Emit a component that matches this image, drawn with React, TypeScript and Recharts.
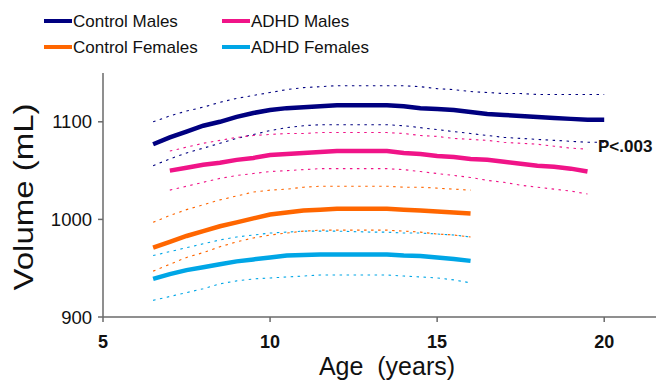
import { LineChart, Line, XAxis, YAxis } from "recharts";

const FONT = '"Liberation Sans", Arial, sans-serif';

// age in years, 0.5 step
const AGES = [6.5, 7, 7.5, 8, 8.5, 9, 9.5, 10, 10.5, 11, 11.5, 12, 12.5, 13, 13.5, 14, 14.5, 15, 15.5, 16, 16.5, 17, 17.5, 18, 18.5, 19, 19.5, 20];

const CONTROL_MALES = [1077, 1084, 1090, 1096, 1100, 1105, 1109, 1112, 1114, 1115, 1116, 1117, 1117, 1117, 1117, 1116, 1114, 1113, 1112, 1110, 1108, 1107, 1106, 1105, 1104, 1103, 1102, 1102];
const CONTROL_MALES_HI = [1100, 1106, 1111, 1115, 1120, 1124, 1127, 1130, 1133, 1135, 1136, 1137, 1137, 1137, 1137, 1137, 1136, 1134, 1133, 1131, 1130, 1129, 1129, 1128, 1128, 1128, 1128, 1128];
const CONTROL_MALES_LO = [1055, 1062, 1068, 1073, 1078, 1083, 1087, 1091, 1094, 1096, 1097, 1097, 1097, 1097, 1097, 1096, 1094, 1092, 1090, 1088, 1086, 1084, 1083, 1082, 1081, 1080, 1079, 1079];

const ADHD_MALES = [null, 1050, 1053, 1056, 1058, 1061, 1063, 1066, 1067, 1068, 1069, 1070, 1070, 1070, 1070, 1068, 1067, 1065, 1064, 1062, 1061, 1059, 1057, 1055, 1054, 1052, 1049, null];
const ADHD_MALES_HI = [null, 1070, 1074, 1078, 1081, 1084, 1086, 1087, 1088, 1088, 1089, 1089, 1089, 1089, 1089, 1088, 1086, 1085, 1083, 1082, 1081, 1079, 1078, 1077, 1075, 1073, 1072, null];
const ADHD_MALES_LO = [null, 1030, 1034, 1038, 1042, 1045, 1047, 1049, 1050, 1051, 1052, 1052, 1052, 1052, 1052, 1051, 1049, 1047, 1045, 1043, 1040, 1038, 1035, 1033, 1031, 1029, 1026, null];

const CONTROL_FEMALES = [971, 977, 983, 988, 993, 997, 1001, 1005, 1007, 1009, 1010, 1011, 1011, 1011, 1011, 1010, 1009, 1008, 1007, 1006];
const CONTROL_FEMALES_HI = [997, 1004, 1010, 1015, 1020, 1024, 1028, 1030, 1031, 1033, 1034, 1034, 1034, 1034, 1034, 1033, 1033, 1032, 1031, 1030];
const CONTROL_FEMALES_LO = [947, 954, 961, 966, 972, 977, 981, 984, 986, 988, 989, 989, 989, 989, 989, 988, 987, 985, 984, 982];

const ADHD_FEMALES = [939, 944, 948, 951, 954, 957, 959, 961, 963, 963.5, 964, 964, 964, 964, 964, 963, 962.5, 961, 959.5, 957.5];
const ADHD_FEMALES_HI = [963, 967, 971, 975, 979, 982, 984, 986, 987, 988, 988, 988, 987.5, 987, 987, 986, 986, 985, 984, 982];
const ADHD_FEMALES_LO = [917, 921, 925, 929, 934, 937, 939, 940, 941, 942, 943, 943, 943, 943, 943, 942, 941, 940, 938, 935];

const X_TICKS = [5, 10, 15, 20];
const Y_TICKS = [900, 1000, 1100];

const NAVY = "#000080";
const PINK = "#F01488";
const ORANGE = "#FF6600";
const CYAN = "#00A6E6";

const LEGEND = [
  { name: "Control Males", color: NAVY, x: 44, y: 21 },
  { name: "ADHD Males", color: PINK, x: 222, y: 21 },
  { name: "Control Females", color: ORANGE, x: 44, y: 47 },
  { name: "ADHD Females", color: CYAN, x: 222, y: 47 },
];

const rows = AGES.map((age, i) => ({
  age,
  cm: CONTROL_MALES[i], cmHi: CONTROL_MALES_HI[i], cmLo: CONTROL_MALES_LO[i],
  am: ADHD_MALES[i], amHi: ADHD_MALES_HI[i], amLo: ADHD_MALES_LO[i],
  cf: CONTROL_FEMALES[i], cfHi: CONTROL_FEMALES_HI[i], cfLo: CONTROL_FEMALES_LO[i],
  af: ADHD_FEMALES[i], afHi: ADHD_FEMALES_HI[i], afLo: ADHD_FEMALES_LO[i],
}));

const SERIES = [
  { key: "cm", color: NAVY },
  { key: "am", color: PINK },
  { key: "cf", color: ORANGE },
  { key: "af", color: CYAN },
];

export default function App() {
  return (
    <div style={{ position: "absolute", left: 0, top: 0, width: 657, height: 381, background: "#fff" }}>
      <LineChart
        width={657}
        height={381}
        data={rows}
        margin={{ top: 73, right: 1, left: 0, bottom: 0 }}
      >
        <XAxis
          dataKey="age"
          type="number"
          domain={[5, 21.55]}
          ticks={X_TICKS}
          height={64}
          tickSize={5}
          tickMargin={13}
          stroke="#6a6a6a"
          strokeWidth={1.5}
          tick={{ fontSize: 18, fontWeight: 700, fill: "#111", fontFamily: FONT }}
        />
        <YAxis
          type="number"
          domain={[900, 1150]}
          ticks={Y_TICKS}
          width={103}
          tickSize={5}
          tickMargin={6}
          stroke="#6a6a6a"
          strokeWidth={1.5}
          tick={{ fontSize: 18.5, fill: "#111", fontFamily: FONT }}
        />
        {SERIES.map(s => [
          <Line key={s.key + "Hi"} dataKey={s.key + "Hi"} stroke={s.color} strokeWidth={1.1}
            strokeDasharray="2.5 4.5" dot={false} activeDot={false} isAnimationActive={false} type="linear" />,
          <Line key={s.key + "Lo"} dataKey={s.key + "Lo"} stroke={s.color} strokeWidth={1.1}
            strokeDasharray="2.5 4.5" dot={false} activeDot={false} isAnimationActive={false} type="linear" />,
        ])}
        {SERIES.map(s => (
          <Line key={s.key} dataKey={s.key} stroke={s.color} strokeWidth={4.5}
            dot={false} activeDot={false} isAnimationActive={false} type="linear" />
        ))}
      </LineChart>
      <svg width={657} height={381} style={{ position: "absolute", left: 0, top: 0, pointerEvents: "none" }}>
        {LEGEND.map(l => (
          <g key={l.name}>
            <line x1={l.x} x2={l.x + 28} y1={l.y} y2={l.y} stroke={l.color} strokeWidth={4} />
            <text x={l.x + 29} y={l.y + 6} fontSize={17} fontFamily={FONT} fill="#111">{l.name}</text>
          </g>
        ))}
        <text x={598} y={152} fontSize={17} fontWeight={700} fontFamily={FONT} fill="#111">P&lt;.003</text>
        <text
          transform="translate(33,197) rotate(-90)"
          textAnchor="middle"
          fontSize={28}
          fontFamily={FONT}
          fill="#111"
          textLength={187}
          lengthAdjust="spacingAndGlyphs"
        >
          Volume (mL)
        </text>
        <text x={387} y={375} textAnchor="middle" fontSize={25} fontFamily={FONT} fill="#111" style={{ whiteSpace: "pre" }}>
          {"Age  (years)"}
        </text>
      </svg>
    </div>
  );
}
